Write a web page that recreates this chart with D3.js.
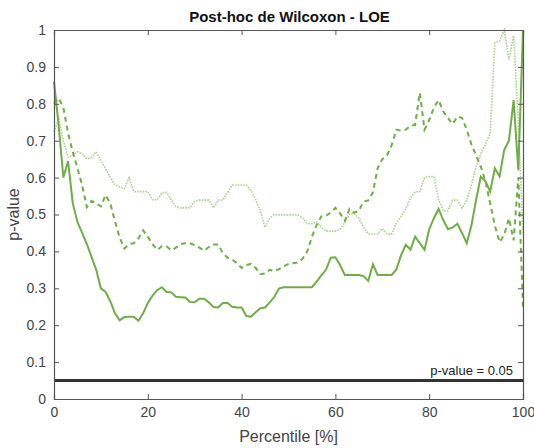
<!DOCTYPE html>
<html><head><meta charset="utf-8">
<script src="https://cdn.jsdelivr.net/npm/d3@7"></script>
<style>body{margin:0;background:#fff}svg{display:block}</style>
</head><body>
<script>
const percentiles = d3.range(0, 101);
const solidSeries = [0.86,0.74,0.60,0.645,0.53,0.48,0.45,0.42,0.385,0.35,0.30,0.29,0.265,0.232,0.213,0.222,0.223,0.223,0.212,0.232,
0.26,0.28,0.295,0.303,0.29,0.289,0.277,0.276,0.275,0.263,0.262,0.272,0.272,0.262,0.249,0.248,0.26,0.26,0.25,0.248,
0.248,0.225,0.223,0.235,0.246,0.248,0.262,0.277,0.30,0.303,0.303,0.303,0.303,0.303,0.303,0.303,0.318,0.335,0.35,0.383,
0.384,0.363,0.336,0.336,0.336,0.336,0.333,0.32,0.365,0.336,0.336,0.336,0.336,0.351,0.39,0.418,0.405,0.44,0.422,0.404,
0.46,0.49,0.515,0.485,0.46,0.465,0.475,0.45,0.422,0.47,0.54,0.603,0.59,0.562,0.625,0.603,0.675,0.70,0.81,0.62,1.0];
const dashedSeries = [0.80,0.815,0.79,0.72,0.67,0.625,0.58,0.52,0.537,0.53,0.522,0.553,0.53,0.482,0.437,0.408,0.42,0.422,0.435,0.457,
0.44,0.42,0.404,0.414,0.414,0.403,0.41,0.42,0.422,0.422,0.417,0.41,0.402,0.412,0.419,0.419,0.395,0.383,0.378,0.368,
0.355,0.363,0.366,0.355,0.338,0.34,0.35,0.347,0.352,0.36,0.366,0.368,0.37,0.38,0.40,0.44,0.472,0.495,0.497,0.505,
0.518,0.503,0.483,0.515,0.505,0.51,0.535,0.538,0.56,0.625,0.65,0.66,0.688,0.73,0.727,0.73,0.74,0.743,0.83,0.73,
0.756,0.79,0.81,0.779,0.761,0.745,0.765,0.762,0.73,0.69,0.66,0.63,0.59,0.53,0.47,0.425,0.445,0.49,0.43,0.6,0.25];
const dottedSeries = [0.724,0.76,0.70,0.655,0.66,0.67,0.665,0.65,0.655,0.67,0.645,0.625,0.60,0.58,0.575,0.57,0.60,0.562,0.562,0.562,
0.562,0.54,0.54,0.558,0.56,0.54,0.521,0.518,0.518,0.518,0.535,0.539,0.539,0.539,0.518,0.539,0.539,0.56,0.58,0.58,
0.58,0.58,0.565,0.54,0.51,0.465,0.49,0.50,0.499,0.499,0.499,0.499,0.499,0.49,0.475,0.475,0.48,0.465,0.455,0.455,
0.455,0.46,0.478,0.50,0.503,0.49,0.465,0.447,0.447,0.447,0.462,0.447,0.447,0.476,0.495,0.515,0.545,0.562,0.562,0.60,
0.603,0.603,0.54,0.51,0.51,0.539,0.539,0.518,0.539,0.58,0.63,0.665,0.69,0.72,0.965,0.97,1.0,0.92,0.985,0.75,0.45];
const xTicks = [0,20,40,60,80,100];
const yTicks = [0,0.1,0.2,0.3,0.4,0.5,0.6,0.7,0.8,0.9,1];
const threshold = 0.05;

const W = 534, H = 448;
const m = {left:54, right:11, top:30, bottom:49};
const svg = d3.select("body").append("svg").attr("width", W).attr("height", H);
const x = d3.scaleLinear().domain([0,100]).range([m.left, W - m.right]);
const y = d3.scaleLinear().domain([0,1]).range([H - m.bottom, m.top]);
const axisCol = "#555";
const font = "Liberation Sans, Arial, sans-serif";

// lines
const line = d3.line().x((d,i)=>x(percentiles[i])).y(d=>y(d));
const g = svg.append("g");
g.append("path").datum(dottedSeries).attr("d", line).attr("fill","none")
  .attr("stroke","#a9d18e").attr("stroke-width",1.6).attr("stroke-dasharray","1.6,1.2");
g.append("path").datum(dashedSeries).attr("d", line).attr("fill","none")
  .attr("stroke","#70ad47").attr("stroke-width",2).attr("stroke-dasharray","5,4");
g.append("path").datum(solidSeries).attr("d", line).attr("fill","none")
  .attr("stroke","#70ad47").attr("stroke-width",2);

// threshold
svg.append("line").attr("x1", x(0)).attr("x2", x(100)).attr("y1", y(threshold)).attr("y2", y(threshold))
  .attr("stroke","#333").attr("stroke-width",3);
svg.append("text").attr("x", x(100)-10).attr("y", y(threshold)-6).attr("text-anchor","end")
  .attr("font-family", font).attr("font-size",13).attr("fill","#222").text("p-value = 0.05");

// axes box
const ax = svg.append("g");
const axB = d3.axisBottom(x).tickValues(xTicks).tickSize(-5).tickPadding(8).tickFormat(d3.format("d"));
const axT = d3.axisTop(x).tickValues(xTicks).tickSize(-5).tickFormat("");
const axL = d3.axisLeft(y).tickValues(yTicks).tickSize(-5).tickPadding(8).tickFormat(d=>d===0?"0":d===1?"1":d3.format(".1f")(d));
const axR = d3.axisRight(y).tickValues(yTicks).tickSize(-5).tickFormat("");
function style(sel){
  sel.selectAll("path").attr("stroke",axisCol).attr("stroke-width",1.2);
  sel.selectAll("line").attr("stroke",axisCol);
  sel.selectAll("text").attr("fill","#444").attr("font-family",font).attr("font-size",14);
}
ax.append("g").attr("transform",`translate(0,${y(0)})`).call(axB).call(style);
ax.append("g").attr("transform",`translate(0,${y(1)})`).call(axT).call(style);
ax.append("g").attr("transform",`translate(${x(0)},0)`).call(axL).call(style);
ax.append("g").attr("transform",`translate(${x(100)},0)`).call(axR).call(style);
svg.selectAll(".domain").attr("d", function(){ return d3.select(this).attr("d").replace(/M[^H V]*[VH]/,m=>m); });

// labels
svg.append("text").attr("x", (x(0)+x(100))/2 + 1).attr("y", 22).attr("text-anchor","middle")
  .attr("font-family",font).attr("font-weight","bold").attr("font-size",15).attr("fill","#111")
  .text("Post-hoc de Wilcoxon - LOE");
svg.append("text").attr("x", (x(0)+x(100))/2).attr("y", 442).attr("text-anchor","middle")
  .attr("font-family",font).attr("font-size",16).attr("fill","#444").text("Percentile [%]");
svg.append("text").attr("transform",`translate(19,${(y(0)+y(1))/2}) rotate(-90)`).attr("text-anchor","middle")
  .attr("font-family",font).attr("font-size",16).attr("fill","#444").text("p-value");
</script>
</body></html>
